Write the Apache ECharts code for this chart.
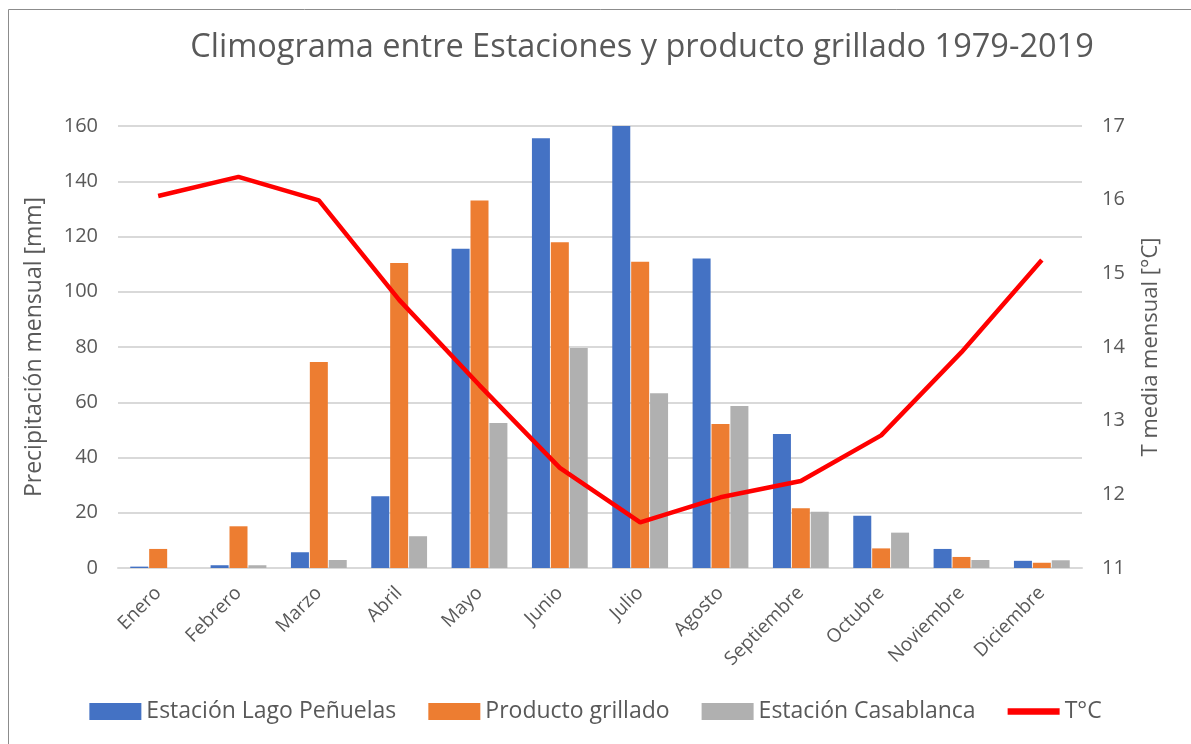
<!DOCTYPE html>
<html>
<head>
<meta charset="utf-8">
<script src="https://cdn.jsdelivr.net/npm/echarts@6/dist/echarts.min.js"></script>
<style>
  html, body { margin: 0; padding: 0; background: #fff; }
  #chart { width: 1191px; height: 744px; }
</style>
</head>
<body>
<div id="chart"></div>
<script>
const meses = ['Enero', 'Febrero', 'Marzo', 'Abril', 'Mayo', 'Junio', 'Julio', 'Agosto', 'Septiembre', 'Octubre', 'Noviembre', 'Diciembre']
const lagoPenuelas = [0.5, 1, 5.7, 26, 115.6, 155.6, 160, 112, 48.5, 18.9, 6.9, 2.6]
const productoGrillado = [6.9, 15.1, 74.6, 110.4, 133, 117.9, 110.9, 52.1, 21.6, 7.1, 4, 1.9]
const casablanca = [0, 1, 2.9, 11.5, 52.5, 79.6, 63.3, 58.6, 20.4, 12.8, 2.9, 2.8]
const temperatura = [16.05, 16.31, 15.99, 14.64, 13.48, 12.36, 11.62, 11.96, 12.18, 12.8, 13.93, 15.18]

const font = 'Open Sans'
const gris = '#595959'

const myChart = echarts.init(document.getElementById('chart'))

const option = {
  textStyle: { fontFamily: font },
  graphic: [{
    type: 'rect',
    left: 6,
    top: 7,
    shape: { width: 1200, height: 800 },
    style: { fill: 'none', stroke: '#8c8c8c', lineWidth: 1 },
    silent: true
  }],
  title: {
    text: 'Climograma entre Estaciones y producto grillado 1979-2019',
    left: 637,
    textAlign: 'center',
    top: 26,
    textStyle: { color: gris, fontSize: 32.5, fontWeight: 'normal', fontFamily: font }
  },
  legend: {
    bottom: 16,
    left: 'center',
    itemWidth: 52,
    itemHeight: 17,
    itemGap: 32,
    textStyle: { color: gris, fontSize: 23, fontFamily: font },
    data: [
      { name: 'Estación Lago Peñuelas', icon: 'rect' },
      { name: 'Producto grillado', icon: 'rect' },
      { name: 'Estación Casablanca', icon: 'rect' },
      { name: 'T°C', icon: 'path://M0,4 L40,4 L40,9 L0,9 Z', itemStyle: { color: '#ff0000' } }
    ]
  },
  grid: {
    left: 118,
    right: 109,
    top: 126,
    bottom: 176
  },
  xAxis: {
    type: 'category',
    data: meses,
    axisTick: { show: false },
    axisLine: { lineStyle: { color: '#d9d9d9', width: 2 } },
    axisLabel: {
      rotate: 45,
      color: gris,
      fontSize: 19,
      margin: 22,
      interval: 0
    }
  },
  yAxis: [
    {
      type: 'value',
      min: 0,
      max: 160,
      interval: 20,
      name: 'Precipitación mensual [mm]',
      nameLocation: 'middle',
      nameGap: 72,
      nameTextStyle: { color: gris, fontSize: 23 },
      axisLabel: { color: gris, fontSize: 20, margin: 20 },
      splitLine: { lineStyle: { color: '#d9d9d9', width: 2 } },
      axisLine: { show: false },
      axisTick: { show: false }
    },
    {
      type: 'value',
      min: 11,
      max: 17,
      interval: 1,
      name: 'T media mensual [°C]',
      nameLocation: 'middle',
      nameGap: 58,
      nameRotate: 90,
      nameTextStyle: { color: gris, fontSize: 22 },
      axisLabel: { color: gris, fontSize: 20, margin: 20 },
      splitLine: { show: false },
      axisLine: { show: false },
      axisTick: { show: false }
    }
  ],
  series: [
    {
      name: 'Estación Lago Peñuelas',
      type: 'bar',
      data: lagoPenuelas,
      barWidth: 18,
      barGap: '5%',
      itemStyle: { color: '#4472c4' }
    },
    {
      name: 'Producto grillado',
      type: 'bar',
      data: productoGrillado,
      barWidth: 18,
      barGap: '5%',
      itemStyle: { color: '#ed7d31' }
    },
    {
      name: 'Estación Casablanca',
      type: 'bar',
      data: casablanca,
      barWidth: 18,
      barGap: '5%',
      itemStyle: { color: '#b0b0b0' }
    },
    {
      name: 'T°C',
      type: 'line',
      yAxisIndex: 1,
      data: temperatura,
      symbol: 'none',
      lineStyle: { color: '#ff0000', width: 4.5 },
      itemStyle: { color: '#ff0000' },
      z: 5
    }
  ]
}

myChart.setOption(option)

window.addEventListener('resize', () => {
  myChart.resize()
})
</script>
</body>
</html>
